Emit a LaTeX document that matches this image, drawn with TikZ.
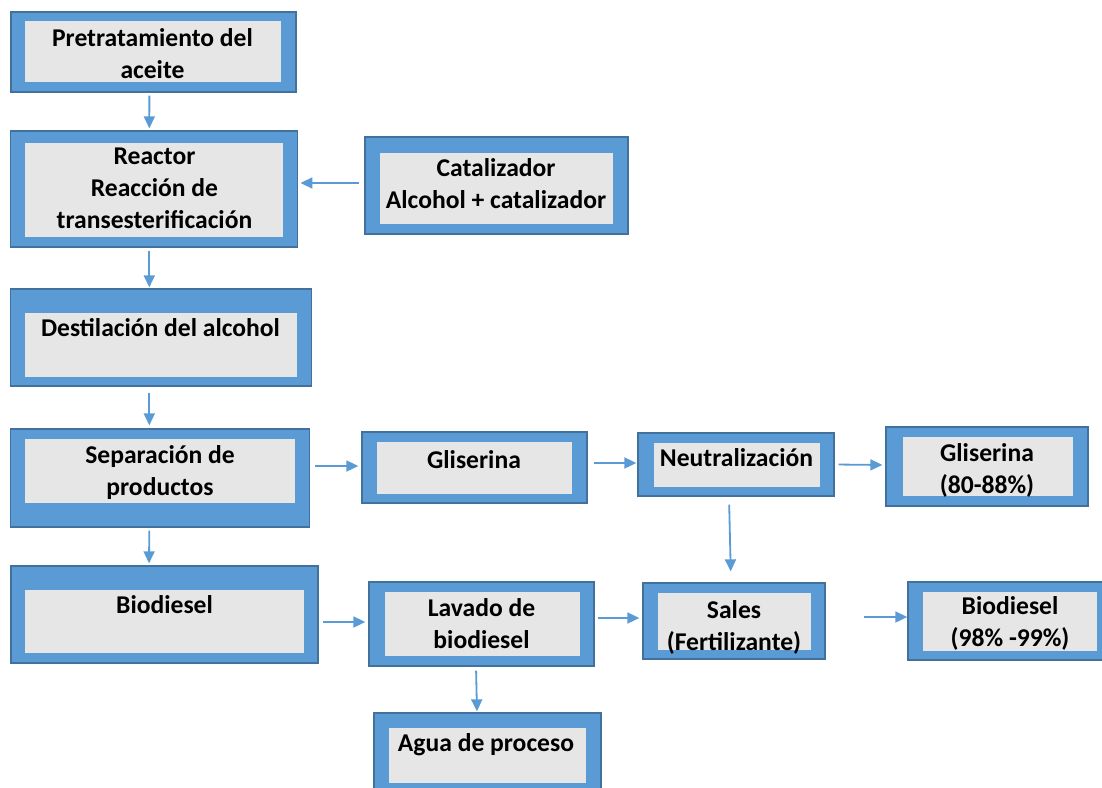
\documentclass[tikz,border=0pt]{standalone}
\usepackage{fontspec}
\setmainfont{Carlito}
\usepackage{tikz}
\usetikzlibrary{arrows.meta}
\definecolor{frameblue}{HTML}{5B9BD5}
\definecolor{frameedge}{HTML}{41719C}
\definecolor{panelgray}{HTML}{E7E6E6}

\begin{document}
\begin{tikzpicture}[x=1pt, y=-1pt,
        frame/.style={draw=frameedge, line width=1.3pt, fill=frameblue, inner sep=0pt},
        panel/.style={fill=panelgray, inner sep=0pt},
        txt/.style={font=\bfseries\fontsize{25.6}{32}\selectfont, align=center, inner sep=0pt, text height=16pt, text depth=5pt},
        arr/.style={-{Triangle[length=12pt, width=11pt]}, line width=1.8pt, draw=frameblue, shorten <=3pt, shorten >=2pt}
    ]
        \useasboundingbox (0,0) rectangle (1102,787);
        \clip (0,0) rectangle (1102,787);
        % main column
        \node[frame, minimum width=285pt, minimum height=80pt] (pre) at (153.4,52) {};
        \node[panel, minimum width=256pt, minimum height=61pt] (pre-in) at (153,51.5) {};
        \node[txt] (pre-t) at (152.5,73) {Pretratamiento del\\aceite};
        \node[frame, minimum width=287pt, minimum height=116pt] (rea) at (154.3,189) {};
        \node[panel, minimum width=258pt, minimum height=94pt] (rea-in) at (154,190) {};
        \node[txt] (rea-t) at (154.5,223) {Reactor\\Reacción de\\transesterificación};
        \node[frame, minimum width=301pt, minimum height=97pt] (des) at (161.3,337.5) {};
        \node[panel, minimum width=272pt, minimum height=64pt] (des-in) at (161,345) {};
        \node[txt] (des-t) at (160.5,331) {Destilación del alcohol};
        \node[frame, minimum width=299pt, minimum height=98pt] (sep) at (160.3,478) {};
        \node[panel, minimum width=270pt, minimum height=64pt] (sep-in) at (160,471) {};
        \node[txt] (sep-t) at (160,490) {Separación de\\productos};
        \node[frame, minimum width=307pt, minimum height=97pt] (bio) at (164.5,614.5) {};
        \node[panel, minimum width=279pt, minimum height=63pt] (bio-in) at (164.5,621.5) {};
        \node[txt] (bio-t) at (164.5,608) {Biodiesel};
        % catalyst feed
        \node[frame, minimum width=263pt, minimum height=97pt] (cat) at (496.5,185.5) {};
        \node[panel, minimum width=233pt, minimum height=71pt] (cat-in) at (496.5,188.5) {};
        \node[txt] (cat-t) at (496,203) {Catalizador\\Alcohol + catalizador};
        % glycerine line
        \node[frame, minimum width=225pt, minimum height=71pt] (gli) at (474.5,467.5) {};
        \node[panel, minimum width=195pt, minimum height=52pt] (gli-in) at (474.5,468) {};
        \node[txt] (gli-t) at (474,463) {Gliserina};
        \node[frame, minimum width=196pt, minimum height=63pt] (neu) at (736,464.5) {};
        \node[panel, minimum width=166pt, minimum height=44pt] (neu-in) at (737,465) {};
        \node[txt] (neu-t) at (736.5,461) {Neutralización};
        \node[frame, minimum width=202pt, minimum height=79pt] (gl2) at (987,466.5) {};
        \node[panel, minimum width=170pt, minimum height=59pt] (gl2-in) at (988,466.5) {};
        \node[txt] (gl2-t) at (987,488) {Gliserina\\(80-88\%)};
        % biodiesel line
        \node[frame, minimum width=225pt, minimum height=84pt] (lav) at (481.5,624) {};
        \node[panel, minimum width=195pt, minimum height=64pt] (lav-in) at (482.5,624) {};
        \node[txt] (lav-t) at (481.5,643) {Lavado de\\biodiesel};
        \node[frame, minimum width=182pt, minimum height=76pt] (sal) at (734,621) {};
        \node[panel, minimum width=153pt, minimum height=57pt] (sal-in) at (734.5,621.5) {};
        \node[txt] (sal-t) at (734,645) {Sales\\(Fertilizante)};
        \node[frame, minimum width=204pt, minimum height=78pt] (bi2) at (1010,621) {};
        \node[panel, minimum width=174pt, minimum height=59pt] (bi2-in) at (1010,621.5) {};
        \node[txt] (bi2-t) at (1010,641) {Biodiesel\\(98\% -99\%)};
        \node[frame, minimum width=227pt, minimum height=80pt] (agu) at (487.5,753) {};
        \node[panel, minimum width=197pt, minimum height=55pt] (agu-in) at (487.5,755.5) {};
        \node[txt] (agu-t) at (486,746) {Agua de proceso};
        % connectors
        \draw[arr] ([xshift=-4pt]pre.south) -- ([xshift=-5pt]rea.north);
        \draw[arr, shorten >=1pt] ([xshift=-5pt]rea.south) -- ([xshift=-12pt]des.north);
        \draw[arr, shorten <=6pt, shorten >=3pt] ([xshift=-12pt]des.south) -- ([xshift=-11pt]sep.north);
        \draw[arr] ([xshift=-11pt]sep.south) -- ([xshift=-15.5pt]bio.north);
        \draw[arr, shorten <=5pt] ([yshift=2.5pt]cat.west) -- ([yshift=6pt]rea.east);
        \draw[arr, shorten <=5pt, shorten >=3pt] ([yshift=12pt]sep.east) -- ([yshift=1.5pt]gli.west);
        \draw[arr, shorten <=6pt, shorten >=1pt] ([yshift=4.5pt]gli.east) -- ([yshift=1.5pt]neu.west);
        \draw[arr, shorten <=4pt, shorten >=3pt] (neu.east) -- ([yshift=1.5pt]gl2.west);
        \draw[arr, shorten <=8pt, shorten >=11pt] ([xshift=-7pt]neu.south) -- ([xshift=-3pt]sal.north);
        \draw[arr, shorten <=4pt, shorten >=3pt] ([yshift=-7.5pt]bio.east) -- ([yshift=2pt]lav.west);
        \draw[arr, shorten >=3pt] ([yshift=6pt]lav.east) -- ([yshift=3pt]sal.west);
        \draw[arr, shorten <=4pt, shorten >=1pt] ([xshift=-5.5pt]lav.south) -- ([xshift=-10.5pt]agu.north);
        \draw[arr, shorten <=38pt, shorten >=0pt] ([yshift=4pt]sal.east) -- ([yshift=4pt]bi2.west);
    \end{tikzpicture}
\end{document}
